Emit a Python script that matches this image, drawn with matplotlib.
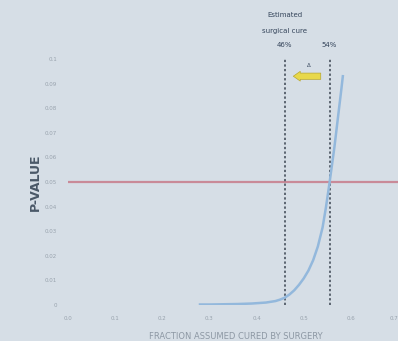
import matplotlib.pyplot as plt

# curve
frac_cured = [0.28, 0.30, 0.33, 0.36, 0.39, 0.42, 0.44, 0.45, 0.46, 0.47, 0.48, 0.49, 0.50, 0.51,
              0.52, 0.53, 0.54, 0.547, 0.555, 0.56, 0.565, 0.57, 0.575, 0.58, 0.583]
p_value = [0.0002, 0.0002, 0.0003, 0.0004, 0.0006, 0.0010, 0.0016, 0.0022, 0.003, 0.0043, 0.006,
           0.0082, 0.0108, 0.014, 0.0182, 0.0238, 0.0315, 0.0395, 0.05, 0.057, 0.064, 0.072, 0.08,
           0.088, 0.093]

cure_lines = [0.46, 0.555]
cure_labels = ["46%", "54%"]
alpha_level = 0.05

x_ticks = [0.0, 0.1, 0.2, 0.3, 0.4, 0.5, 0.6, 0.7]
x_tick_labels = ["0.0", "0.1", "0.2", "0.3", "0.4", "0.5", "0.6", "0.7"]
y_ticks = [0, 0.01, 0.02, 0.03, 0.04, 0.05, 0.06, 0.07, 0.08, 0.09, 0.1]
y_tick_labels = ["0", "0.01", "0.02", "0.03", "0.04", "0.05", "0.06", "0.07", "0.08", "0.09", "0.1"]

bg = "#d6dee6"
fig = plt.figure(figsize=(3.98, 3.41), dpi=100, facecolor=bg)
ax = fig.add_axes([68 / 398, 1 - 305 / 341, 330 / 398, 246 / 341])
ax.set_facecolor(bg)

ax.axhline(alpha_level, color="#c98a98", lw=1.6)
for x in cure_lines:
    ax.plot([x, x], [0, 0.1], color="#3a4450", lw=1.1, ls=(0, (1.5, 1.5)))
ax.plot(frac_cured, p_value, color="#93b8dc", lw=1.8)

ax.set_xlim(0, 0.7)
ax.set_ylim(0, 0.1)
ax.set_xticks(x_ticks)
ax.set_xticklabels(x_tick_labels)
ax.set_yticks(y_ticks)
ax.set_yticklabels(y_tick_labels)
ax.tick_params(length=0, labelsize=4, colors="#98a2ad", pad=8)
ax.get_xticklabels()[-1].set_ha("right")
for s in ax.spines.values():
    s.set_visible(False)

ax.set_ylabel("P-VALUE", fontsize=9, fontweight="bold", color="#4a5868", labelpad=2)
ax.set_xlabel("FRACTION ASSUMED CURED BY SURGERY", fontsize=6, color="#8d98a4", labelpad=9)
ax.xaxis.set_label_coords(0.51, -0.11)

# labels above the dashed lines
ax.text(cure_lines[0], 0.118, "Estimated", ha="center", va="center", fontsize=5, color="#34445a", clip_on=False)
ax.text(cure_lines[0], 0.1115, "surgical cure", ha="center", va="center", fontsize=5, color="#34445a", clip_on=False)
for x, lab in zip(cure_lines, cure_labels):
    ax.text(x, 0.1055, lab, ha="center", va="center", fontsize=5, color="#34445a", clip_on=False)

ax.annotate("", xy=(0.472, 0.093), xytext=(0.542, 0.093),
            arrowprops=dict(arrowstyle="simple,head_length=0.5,head_width=0.7,tail_width=0.45",
                            fc="#e8d84a", ec="#b8a830", lw=0.5))
ax.text(0.51, 0.0975, "Δ", ha="center", va="center", fontsize=4, color="#3a4a60")

fig.savefig("out.png", dpi=100, facecolor=bg)
